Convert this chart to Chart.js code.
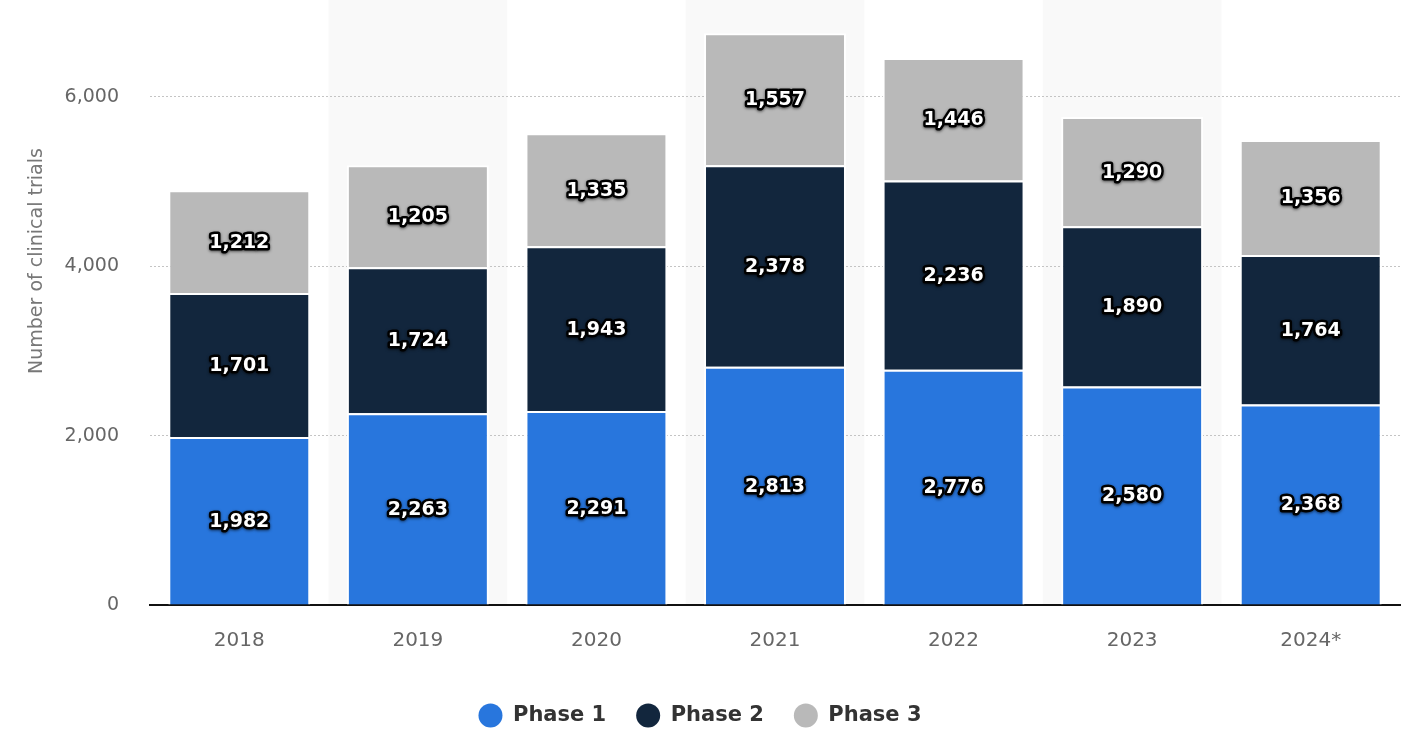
<!DOCTYPE html>
<html>
<head>
<meta charset="utf-8">
<script src="https://cdn.jsdelivr.net/npm/chart.js@4.4.1/dist/chart.umd.min.js"></script>
<style>
   html, body { margin: 0; padding: 0; background: #fff; }
   #wrap { width: 1424px; height: 752px; position: relative; }
</style>
</head>
<body>
<div id="wrap"><canvas id="chart"></canvas></div>
<script>
// Данные
const years = ['2018', '2019', '2020', '2021', '2022', '2023', '2024*']
const phase1 = [1982, 2263, 2291, 2813, 2776, 2580, 2368]
const phase2 = [1701, 1724, 1943, 2378, 2236, 1890, 1764]
const phase3 = [1212, 1205, 1335, 1557, 1446, 1290, 1356]
const yTickStep = 2000
const yTitle = 'Number of clinical trials'

Chart.defaults.font.family = '"DejaVu Sans", Verdana, sans-serif'

// Светлые полосы за каждым вторым годом
const bandsPlugin = {
   id: 'bands',
   beforeDraw(chart) {
      const { ctx, chartArea, scales } = chart
      const x = scales.x
      const w = x.width / years.length
      ctx.save()
      ctx.fillStyle = '#f9f9f9'
      years.forEach((_, i) => {
         if (i % 2 === 1) {
            const cx = x.getPixelForValue(i)
            ctx.fillRect(cx - w / 2, 0, w, chartArea.bottom)
         }
      })
      ctx.restore()
   },
   // Подпись оси Y (смещена вверх, как в оригинале)
   afterDraw(chart) {
      const { ctx, chartArea } = chart
      ctx.save()
      ctx.translate(37, chartArea.top + (chartArea.bottom - chartArea.top) * 0.42)
      ctx.rotate(-Math.PI / 2)
      ctx.font = '19px "DejaVu Sans", Verdana, sans-serif'
      ctx.fillStyle = '#777'
      ctx.textAlign = 'center'
      ctx.textBaseline = 'middle'
      ctx.fillText(yTitle, 0, 0)
      ctx.restore()
   }
}

// Подписи значений внутри сегментов
const valueLabels = {
   id: 'valueLabels',
   afterDatasetsDraw(chart) {
      const { ctx } = chart
      ctx.save()
      ctx.font = 'bold 19px "DejaVu Sans", Verdana, sans-serif'
      ctx.textAlign = 'center'
      ctx.textBaseline = 'middle'
      ctx.lineJoin = 'round'
      chart.data.datasets.forEach((ds, di) => {
         const meta = chart.getDatasetMeta(di)
         meta.data.forEach((el, i) => {
            const text = ds.data[i].toLocaleString('en-US')
            const cy = (el.y + el.base) / 2 + 1
            ctx.shadowColor = 'rgba(0,0,0,0.6)'
            ctx.shadowBlur = 3
            ctx.shadowOffsetY = 1
            ctx.lineWidth = 5
            ctx.strokeStyle = '#000'
            ctx.strokeText(text, el.x, cy)
            ctx.shadowColor = 'transparent'
            ctx.fillStyle = '#fff'
            ctx.fillText(text, el.x, cy)
         })
      })
      ctx.restore()
   }
}

const barStyle = {
   borderColor: '#fff',
   borderWidth: 2,
   borderSkipped: 'start',
   categoryPercentage: 1,
   barPercentage: 0.795
}

new Chart(document.getElementById('chart'), {
   type: 'bar',
   data: {
      labels: years,
      datasets: [
         { label: 'Phase 1', data: phase1, backgroundColor: '#2876dd', ...barStyle },
         { label: 'Phase 2', data: phase2, backgroundColor: '#12263d', ...barStyle },
         { label: 'Phase 3', data: phase3, backgroundColor: '#b9b9b9', ...barStyle }
      ]
   },
   options: {
      responsive: true,
      maintainAspectRatio: false,
      animation: false,
      layout: { padding: { top: 12, right: 24, left: 0, bottom: 16 } },
      plugins: {
         tooltip: { enabled: false },
         legend: {
            position: 'bottom',
            labels: {
               usePointStyle: true,
               pointStyle: 'circle',
               boxHeight: 17,
               pointStyleWidth: 24,
               padding: 30,
               color: '#333',
               font: { size: 21, weight: 'bold' },
               generateLabels(chart) {
                  return Chart.defaults.plugins.legend.labels.generateLabels(chart)
                     .map(l => ({ ...l, lineWidth: 0, strokeStyle: 'transparent' }))
               }
            }
         }
      },
      scales: {
         x: {
            stacked: true,
            grid: { display: false },
            border: { display: true, color: '#111', width: 2 },
            ticks: { color: '#666', font: { size: 20 }, padding: 16 },
            afterFit(scale) { scale.height = 70 }
         },
         y: {
            stacked: true,
            min: 0,
            max: 7000,
            grid: {
               color: (c) => c.tick && c.tick.value === 0 ? 'transparent' : '#c4c4c4',
               drawTicks: false,
               lineWidth: 1
            },
            border: { display: false, dash: [2, 2] },
            ticks: {
               stepSize: 1000,
               color: '#666',
               font: { size: 19 },
               padding: 31,
               callback: (v) => v % yTickStep === 0 ? v.toLocaleString('en-US') : null
            },
            afterFit(scale) {
               scale.width = 150
               // отступ подписей не должен сдвигать верх области графика
               scale.paddingTop = 0
               scale.paddingBottom = 0
            }
         }
      }
   },
   plugins: [bandsPlugin, valueLabels]
})
</script>
</body>
</html>
